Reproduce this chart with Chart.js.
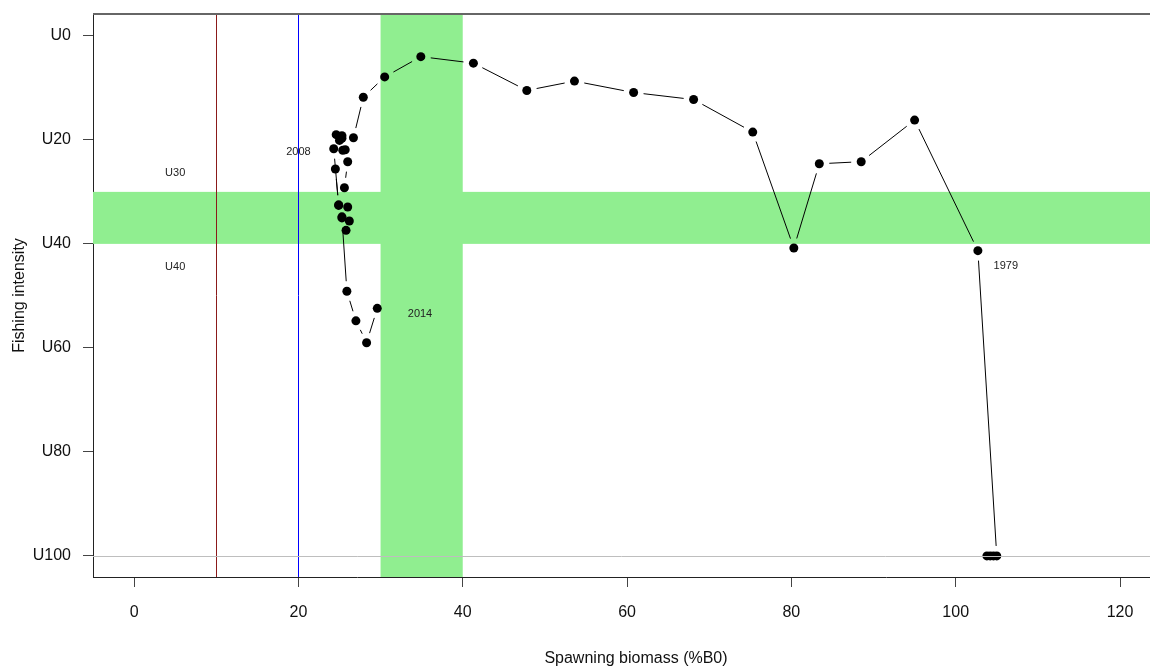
<!DOCTYPE html>
<html>
<head>
<meta charset="utf-8">
<script src="https://cdn.jsdelivr.net/npm/chart.js@4/dist/chart.umd.min.js"></script>
<style>
  html, body { margin: 0; padding: 0; background: #fff; }
  #wrap { width: 1150px; height: 666px; position: relative; }
</style>
</head>
<body>
<div id="wrap"><canvas id="kobe"></canvas></div>
<script>
// Spawning biomass (%B0) vs fishing intensity, one point per year
const years = [1975, 1976, 1977, 1978, 1979, 1980, 1981, 1982, 1983, 1984,
               1985, 1986, 1987, 1988, 1989, 1990, 1991, 1992, 1993, 1994,
               1995, 1996, 1997, 1998, 1999, 2000, 2001, 2002, 2003, 2004,
               2005, 2006, 2007, 2008, 2009, 2010, 2011, 2012, 2013, 2014];
const biomass = [103.8, 104.2, 104.6, 105.0, 102.7, 95.0, 88.5, 83.4, 80.3, 75.3,
                 68.1, 60.8, 53.6, 47.8, 41.3, 34.9, 30.5, 27.9, 26.7, 25.3,
                 24.6, 25.7, 26.0, 25.6, 26.0, 26.2, 25.8, 25.3, 24.9, 24.5,
                 25.4, 25.0, 25.3, 24.3, 24.9, 25.3, 25.9, 27.0, 28.3, 29.6];
const intensity = [100, 100, 100, 100, 41.3, 16.2, 24.2, 24.6, 40.8, 18.5,
                   12.25, 10.9, 8.7, 10.5, 5.25, 4.0, 7.9, 11.8, 19.6, 19.7,
                   19.0, 21.9, 24.2, 29.2, 32.9, 35.6, 37.4, 34.8, 32.5, 25.6,
                   22.0, 20.1, 19.2, 21.7, 32.6, 35.0, 49.1, 54.8, 59.0, 52.4];

const xTicks = [0, 20, 40, 60, 80, 100, 120];
const yTicks = [0, 20, 40, 60, 80, 100];

// reference bands and lines
const bandX = [30, 40];        // target biomass range
const bandY = [30, 40];        // target intensity range
const refLinesX = [10, 20];
const refColorsX = ['#8b1a1a', '#0000ff'];
const refLinesY = [100];

// text annotations
const noteText = ['U30', 'U40', '2008', '2014', '1979'];
const noteX = [5, 5, 20, 34.8, 106.1];
const noteY = [26.4, 44.4, 22.3, 53.5, 44.2];

const points = biomass.map((b, i) => ({ x: b, y: intensity[i] }));

const FONT = '"Liberation Sans", Arial, sans-serif';

const decorPlugin = {
    id: 'decor',
    beforeDatasetsDraw(chart) {
        const { ctx, chartArea: a, scales: { x, y } } = chart;
        ctx.save();
        // green bands
        ctx.fillStyle = '#90ee90';
        const x0 = x.getPixelForValue(bandX[0]), x1 = x.getPixelForValue(bandX[1]);
        ctx.fillRect(x0, a.top, x1 - x0, a.bottom - a.top);
        const y0 = y.getPixelForValue(bandY[0]), y1 = y.getPixelForValue(bandY[1]);
        ctx.fillRect(a.left, y0, a.right - a.left, y1 - y0);

        // notes
        ctx.fillStyle = '#222';
        ctx.font = '11px ' + FONT;
        ctx.textAlign = 'center';
        ctx.textBaseline = 'middle';
        noteText.forEach((t, i) => {
            ctx.fillText(t, x.getPixelForValue(noteX[i]), y.getPixelForValue(noteY[i]));
        });

        // type "b" segments: stop short of each point
        const pts = chart.getDatasetMeta(0).data;
        const gap = 10;
        ctx.strokeStyle = '#000';
        ctx.lineWidth = 1;
        ctx.beginPath();
        for (let i = 0; i < pts.length - 1; i++) {
            const p = pts[i], q = pts[i + 1];
            const dx = q.x - p.x, dy = q.y - p.y;
            const len = Math.sqrt(dx * dx + dy * dy);
            if (len <= 2 * gap) continue;
            const ux = dx / len, uy = dy / len;
            ctx.moveTo(p.x + ux * gap, p.y + uy * gap);
            ctx.lineTo(q.x - ux * gap, q.y - uy * gap);
        }
        ctx.stroke();
        ctx.restore();
    },
    afterDatasetsDraw(chart) {
        const { ctx, chartArea: a, scales: { x, y } } = chart;
        ctx.save();
        ctx.lineWidth = 1;
        refLinesX.forEach((v, i) => {
            const px = Math.round(x.getPixelForValue(v)) + 0.5;
            ctx.strokeStyle = refColorsX[i];
            ctx.beginPath();
            ctx.moveTo(px, a.top);
            ctx.lineTo(px, a.bottom);
            ctx.stroke();
        });
        ctx.strokeStyle = '#bebebe';
        refLinesY.forEach(v => {
            const py = Math.round(y.getPixelForValue(v)) + 0.5;
            ctx.beginPath();
            ctx.moveTo(a.left, py);
            ctx.lineTo(a.right, py);
            ctx.stroke();
        });
        // top of the box
        ctx.strokeStyle = '#666';
        ctx.lineWidth = 2;
        ctx.beginPath();
        ctx.moveTo(a.left, a.top);
        ctx.lineTo(a.right, a.top);
        ctx.stroke();

        // x axis title (R centres it on the full plot region)
        ctx.fillStyle = '#111';
        ctx.font = '16px ' + FONT;
        ctx.textAlign = 'center';
        ctx.textBaseline = 'middle';
        ctx.fillText('Spawning biomass (%B0)', 636, 659);
        ctx.restore();
    }
};

new Chart(document.getElementById('kobe'), {
    type: 'scatter',
    data: {
        datasets: [{
            data: points,
            showLine: false,
            pointRadius: 4.5,
            pointHoverRadius: 4.5,
            backgroundColor: '#000',
            borderColor: '#000',
            borderWidth: 0
        }]
    },
    options: {
        responsive: true,
        maintainAspectRatio: false,
        animation: false,
        layout: { autoPadding: false, padding: { top: 14, left: 0, right: 0, bottom: 0 } },
        plugins: {
            legend: { display: false },
            tooltip: { enabled: false }
        },
        scales: {
            x: {
                type: 'linear',
                min: -5,
                max: 123.65,
                afterBuildTicks: s => { s.ticks = xTicks.map(v => ({ value: v })); },
                afterFit: s => { s.height = 89; },
                grid: { drawOnChartArea: false, tickLength: 10, tickColor: '#444' },
                border: { color: '#222', width: 1 },
                ticks: {
                    padding: 16,
                    color: '#111',
                    maxRotation: 0,
                    font: { size: 16, family: FONT }
                }
            },
            y: {
                type: 'linear',
                reverse: true,
                min: -4.2,
                max: 104.05,
                afterBuildTicks: s => { s.ticks = yTicks.map(v => ({ value: v })); },
                afterFit: s => {
                    s.width = 93;
                    s.paddingTop = 0;
                    s.paddingBottom = 0;
                },
                grid: { drawOnChartArea: false, tickLength: 10, tickColor: '#444' },
                border: { color: '#222', width: 1 },
                ticks: {
                    padding: 12,
                    color: '#111',
                    font: { size: 16, family: FONT },
                    callback: v => 'U' + v
                },
                title: {
                    display: true,
                    text: 'Fishing intensity',
                    color: '#111',
                    padding: { top: 10, bottom: 0 },
                    font: { size: 16, family: FONT }
                }
            }
        }
    },
    plugins: [decorPlugin]
});
</script>
</body>
</html>
